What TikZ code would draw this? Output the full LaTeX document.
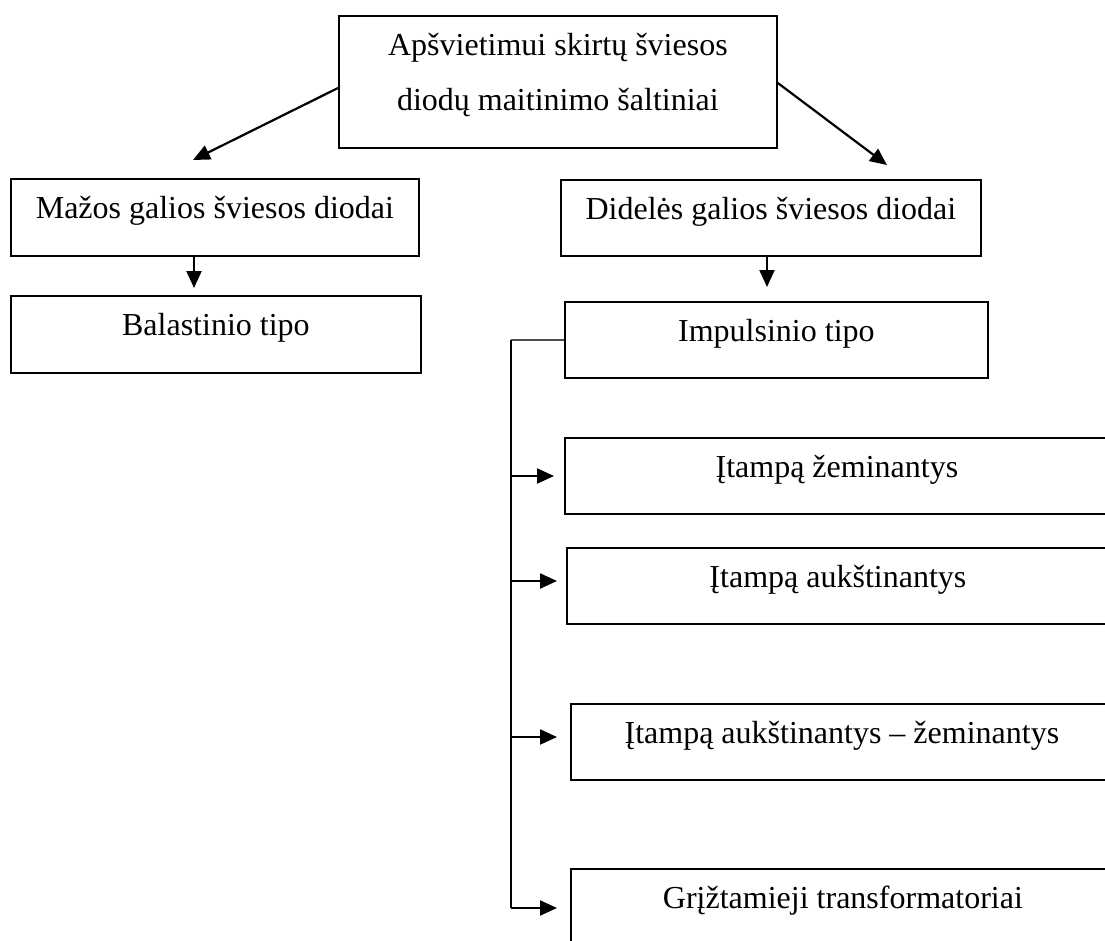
\documentclass[tikz,border=0pt]{standalone}
\usepackage{fontspec}
\setmainfont{Liberation Serif}
\usetikzlibrary{arrows.meta,calc}
\tikzset{
  box/.style={draw, line width=1.8pt, anchor=north west, inner xsep=0pt, inner ysep=0pt,
    font=\fontsize{32}{55}\selectfont, align=center, text height=40pt},
  arr/.style={line width=2.2pt, -{Triangle[length=17pt,width=15pt]}},
  trunk/.style={line width=1.4pt},
  stub/.style={line width=1.8pt, draw=black!70}
}
\begin{document}
\begin{tikzpicture}[x=1pt,y=-1pt]
\clip (0,0) rectangle (1105,940);
\fill[white] (0,0) rectangle (1105,940);
% boxes
\node[box, minimum width=438pt, minimum height=132pt, text height=95pt, text depth=37pt] (top) at (338,15)
  {Apšvietimui skirtų šviesos\\diodų maitinimo šaltiniai};
\node[box, minimum width=408pt, minimum height=77pt, text depth=37pt] (maz) at (10,178) {Mažos galios šviesos diodai};
\node[box, minimum width=420pt, minimum height=76pt, text depth=36pt] (did) at (560,179) {Didelės galios šviesos diodai};
\node[box, minimum width=410pt, minimum height=77pt, text depth=37pt] (bal) at (10,295) {Balastinio tipo};
\node[box, minimum width=423pt, minimum height=76pt, text depth=36pt] (imp) at (564,301) {Impulsinio tipo};
\node[box, minimum width=544pt, minimum height=76pt, text depth=36pt] (b1) at (564,437) {Įtampą žeminantys};
\node[box, minimum width=542pt, minimum height=76pt, text depth=36pt] (b2) at (566,547) {Įtampą aukštinantys};
\node[box, minimum width=542pt, minimum height=76pt, text depth=36pt] (b3) at (570,703) {Įtampą aukštinantys – žeminantys};
\node[box, minimum width=544pt, minimum height=76pt, text depth=36pt] (b4) at (570,868) {Grįžtamieji transformatoriai};
% top arrows
\coordinate (tl) at (193,160);
\coordinate (tr) at (887,165);
\draw[arr] ($(top.north west)+(0,73)$) -- (tl);
\draw[arr] ($(top.north east)+(0,68)$) -- (tr);
% vertical arrows
\draw[arr, shorten >=7pt] ($(maz.south west)+(184,0)$) -- ($(bal.north west)+(184,0)$);
\draw[arr, shorten >=14pt] ($(did.south west)+(207,0)$) -- ($(imp.north west)+(203,0)$);
% branch
\coordinate (bt) at ($(imp.west)+(-53,0)$);
\coordinate (a1) at ($(b1.north west)+(-10,39)$);
\coordinate (a2) at ($(b2.north west)+(-9,34)$);
\coordinate (a3) at ($(b3.north west)+(-13,34)$);
\coordinate (a4) at ($(b4.north west)+(-13,40)$);
\draw[stub] (imp.west) -- (bt);
\draw[trunk] (bt) -- (bt |- a4);
\draw[arr] (bt |- a1) -- (a1);
\draw[arr] (bt |- a2) -- (a2);
\draw[arr] (bt |- a3) -- (a3);
\draw[arr] (bt |- a4) -- (a4);
\end{tikzpicture}
\end{document}
